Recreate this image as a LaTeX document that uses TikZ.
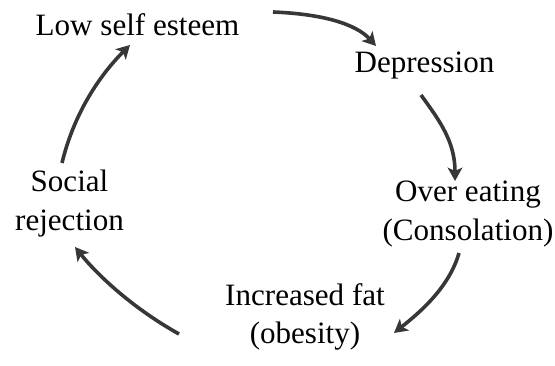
\documentclass[tikz,border=0pt]{standalone}
\usepackage{fontspec}
\setmainfont{Liberation Serif}
\usetikzlibrary{arrows.meta}
\tikzset{cycarrow/.style={draw={rgb,255:red,55;green,55;blue,55},line width=2.7pt,-{Stealth[length=10pt,width=11pt,inset=2.5pt]}}}
\tikzset{cyclabel/.style={anchor=base,inner sep=0pt,align=center,font=\fontsize{23.3pt}{28.5pt}\selectfont}}

\begin{document}
\begin{tikzpicture}[x=0.75pt,y=-0.75pt]
            \useasboundingbox (0,0) rectangle (555,366);
            \node (lse) [cyclabel] at (137.5,36)  {Low self esteem};
            \node (dep) [cyclabel] at (424.5,73)  {Depression};
            \node (ovr) [cyclabel] at (468,240)   {Over eating\\(Consolation)};
            \node (fat) [cyclabel] at (305,343)   {Increased fat\\(obesity)};
            \node (soc) [cyclabel] at (69.5,230)  {Social\\rejection};

            \draw[cycarrow] ([shift={(135.5,-24)}]lse.base) .. controls +(50,2) and +(-20,-22) .. ([shift={(-48.5,-27)}]dep.base);
            \draw[cycarrow] ([shift={(-3.5,22)}]dep.base) .. controls +(18,25) and +(0,-40) .. ([shift={(-13,-59)}]ovr.base);
            \draw[cycarrow] ([shift={(-9,13)}]ovr.base) .. controls +(-10,35) and +(25,-20) .. ([shift={(89,-10)}]fat.base);
            \draw[cycarrow] ([shift={(-126,-9)}]fat.base) .. controls +(-50,-28) and +(20,25) .. ([shift={(5.5,17)}]soc.base);
            \draw[cycarrow] ([shift={(-7.5,-67)}]soc.base) .. controls +(12,-50) and +(-30,30) .. ([shift={(-7.5,9)}]lse.base);
        \end{tikzpicture}
\end{document}
